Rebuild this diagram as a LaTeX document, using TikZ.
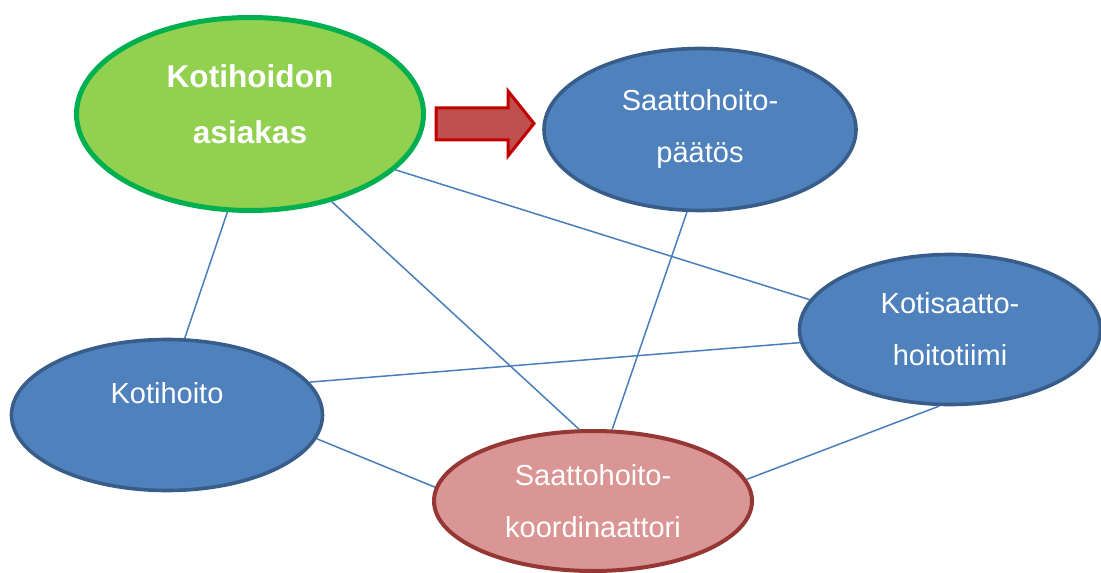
\documentclass[tikz,border=0pt]{standalone}
\usepackage{fontspec}
\setmainfont{Liberation Sans}
\usepackage{tikz}
\usetikzlibrary{shapes}
\usetikzlibrary{positioning}

\definecolor{bluefill}{HTML}{4F81BD}
\definecolor{blueline}{HTML}{385D8A}
\definecolor{greenfill}{HTML}{92D050}
\definecolor{greenline}{HTML}{00B050}
\definecolor{rosefill}{HTML}{D99694}
\definecolor{roseline}{HTML}{953735}
\definecolor{arrowfill}{HTML}{C0504D}
\definecolor{arrowline}{HTML}{C00000}
\definecolor{linkcol}{HTML}{4A7EBB}

\tikzset{
	oval/.style={ellipse, inner sep=0pt, align=center, text=white,
		font=\fontsize{14.5pt}{26pt}\selectfont},
	bluebox/.style={oval, draw=blueline, fill=bluefill, line width=1.8pt},
	link/.style={draw=linkcol, line width=0.75pt},
}

\begin{document}
\begin{tikzpicture}[x=0.5pt, y=-0.5pt]
			\useasboundingbox (0,0) rectangle (1101,572);
			
			\node[oval, draw=greenline, fill=greenfill, line width=2.5pt, minimum width=173.5pt, minimum height=96.5pt,
				font=\bfseries\fontsize{15.8pt}{28pt}\selectfont] (asiakas) at (250,114) {Kotihoidon\\asiakas\\[-18pt]\mbox{}};
			\node[bluebox, minimum width=156pt, minimum height=81pt] (paatos) at (700,129.5) {Saattohoito-\\päätös};
			\node[bluebox, minimum width=150.5pt, minimum height=75pt] (tiimi) at (950,329.5) {Kotisaatto-\\hoitotiimi};
			\node[bluebox, minimum width=155.5pt, minimum height=75.5pt] (kotihoito) at (167,415) {Kotihoito\\[-4pt]\mbox{}};
			\node[oval, draw=roseline, fill=rosefill, line width=2pt, minimum width=159pt, minimum height=70pt] (koord) at (593,501) {Saattohoito-\\koordinaattori};
			
			\draw[fill=arrowfill, draw=arrowline, line width=1.5pt, line join=miter]
				(436,108) -- (508,108) -- (508,91) -- (534,123.5) -- (508,156) -- (508,140) -- (436,140) -- cycle;
			
			\draw[link] (asiakas.257) -- (kotihoito.77);
			\draw[link] (asiakas.-47) -- (koord.101);
			\draw[link] (asiakas.-21) -- (tiimi.168.5);
			\draw[link] (paatos.261.5) -- (koord.75);
			\draw[link] (kotihoito.13.5) -- (tiimi.185);
			\draw[link] (kotihoito.-9) -- (koord.175);
			\draw[link] (tiimi.262.5) -- (koord.8.5);
			
		\end{tikzpicture}
\end{document}
